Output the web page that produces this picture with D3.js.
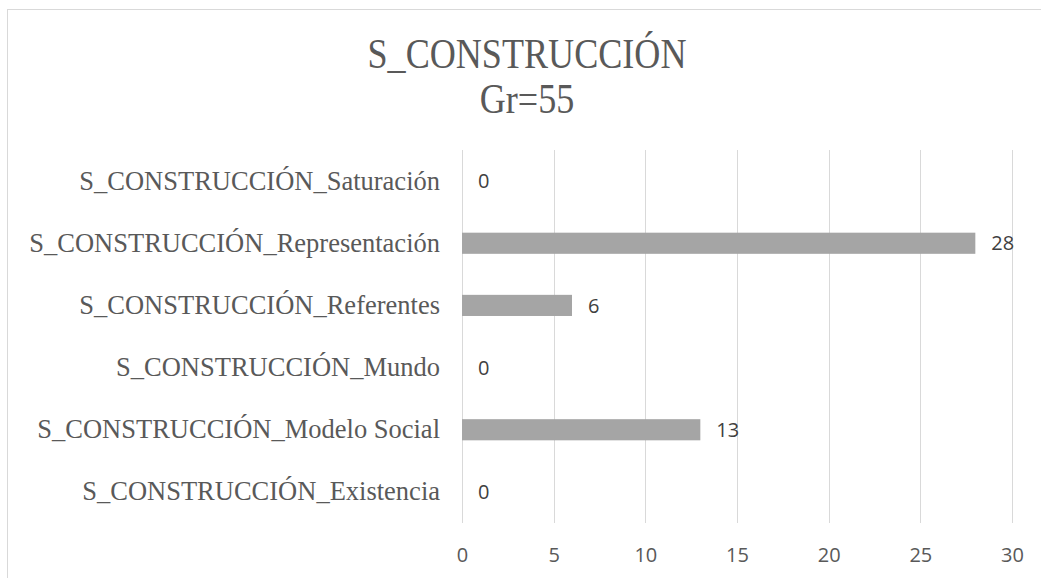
<!DOCTYPE html>
<html><head><meta charset="utf-8">
<script src="https://cdn.jsdelivr.net/npm/d3@7"></script>
<style>body{margin:0;background:#fff;} svg{display:block;}</style>
</head><body>
<svg id="chart" width="1041" height="578"></svg>
<script>
const categories = ["S_CONSTRUCCIÓN_Saturación","S_CONSTRUCCIÓN_Representación","S_CONSTRUCCIÓN_Referentes","S_CONSTRUCCIÓN_Mundo","S_CONSTRUCCIÓN_Modelo Social","S_CONSTRUCCIÓN_Existencia"];
const values = [0, 28, 6, 0, 13, 0];
const tickValues = [0, 5, 10, 15, 20, 25, 30];
const titleLines = ["S_CONSTRUCCIÓN", "Gr=55"];

const svg = d3.select("#chart");
// chart border
svg.append("rect").attr("x",7.5).attr("y",9.5).attr("width",1100).attr("height",700)
  .attr("fill","#fff").attr("stroke","#d9d9d9").attr("stroke-width",1);

const x = d3.scaleLinear().domain([0,30]).range([462,1012]);
const y = d3.scaleBand().domain(categories).range([150,523]).paddingInner(0.66).paddingOuter(0.33);

// gridlines
svg.append("g").selectAll("line").data(tickValues).join("line")
  .attr("x1",d=>Math.round(x(d))+0.5).attr("x2",d=>Math.round(x(d))+0.5)
  .attr("y1",150).attr("y2",523).attr("stroke","#d9d9d9").attr("stroke-width",1);

// x axis labels
const xAxis = d3.axisBottom(x).tickValues(tickValues).tickSize(0).tickPadding(0);
const gx = svg.append("g").attr("transform","translate(0,548)").call(xAxis);
gx.select(".domain").remove();
gx.selectAll("text").attr("font-family","'Open Sans', 'Liberation Sans', sans-serif")
  .attr("font-size",20).attr("fill","#595959");

// y axis labels
const yAxis = d3.axisLeft(y).tickSize(0).tickPadding(0);
const gy = svg.append("g").attr("transform","translate(440,0)").call(yAxis);
gy.select(".domain").remove();
gy.selectAll("text").attr("font-family","'Liberation Serif', 'Times New Roman', serif")
  .attr("font-size",26.5).attr("fill","#595959");

// bars
svg.append("g").selectAll("rect").data(values).join("rect")
  .attr("x",x(0)).attr("y",(d,i)=>y(categories[i]))
  .attr("width",d=>x(d)-x(0)).attr("height",y.bandwidth())
  .attr("fill","#a5a5a5");

// value labels
svg.append("g").selectAll("text").data(values).join("text")
  .attr("x",d=>x(d)+16).attr("y",(d,i)=>y(categories[i])+y.bandwidth()/2)
  .attr("dy","0.36em")
  .attr("font-family","'Open Sans', 'Liberation Sans', sans-serif")
  .attr("font-size",20).attr("fill","#404040").text(d=>d);

// title
const cx = 527;
svg.append("g").attr("transform",`translate(${cx},0) scale(0.86,1)`)
  .selectAll("text").data(titleLines).join("text")
  .attr("x",0).attr("y",(d,i)=>68+i*45).attr("text-anchor","middle")
  .attr("font-family","'Liberation Serif', 'Times New Roman', serif")
  .attr("font-size",42).attr("fill","#595959").text(d=>d);
</script>
</body></html>
